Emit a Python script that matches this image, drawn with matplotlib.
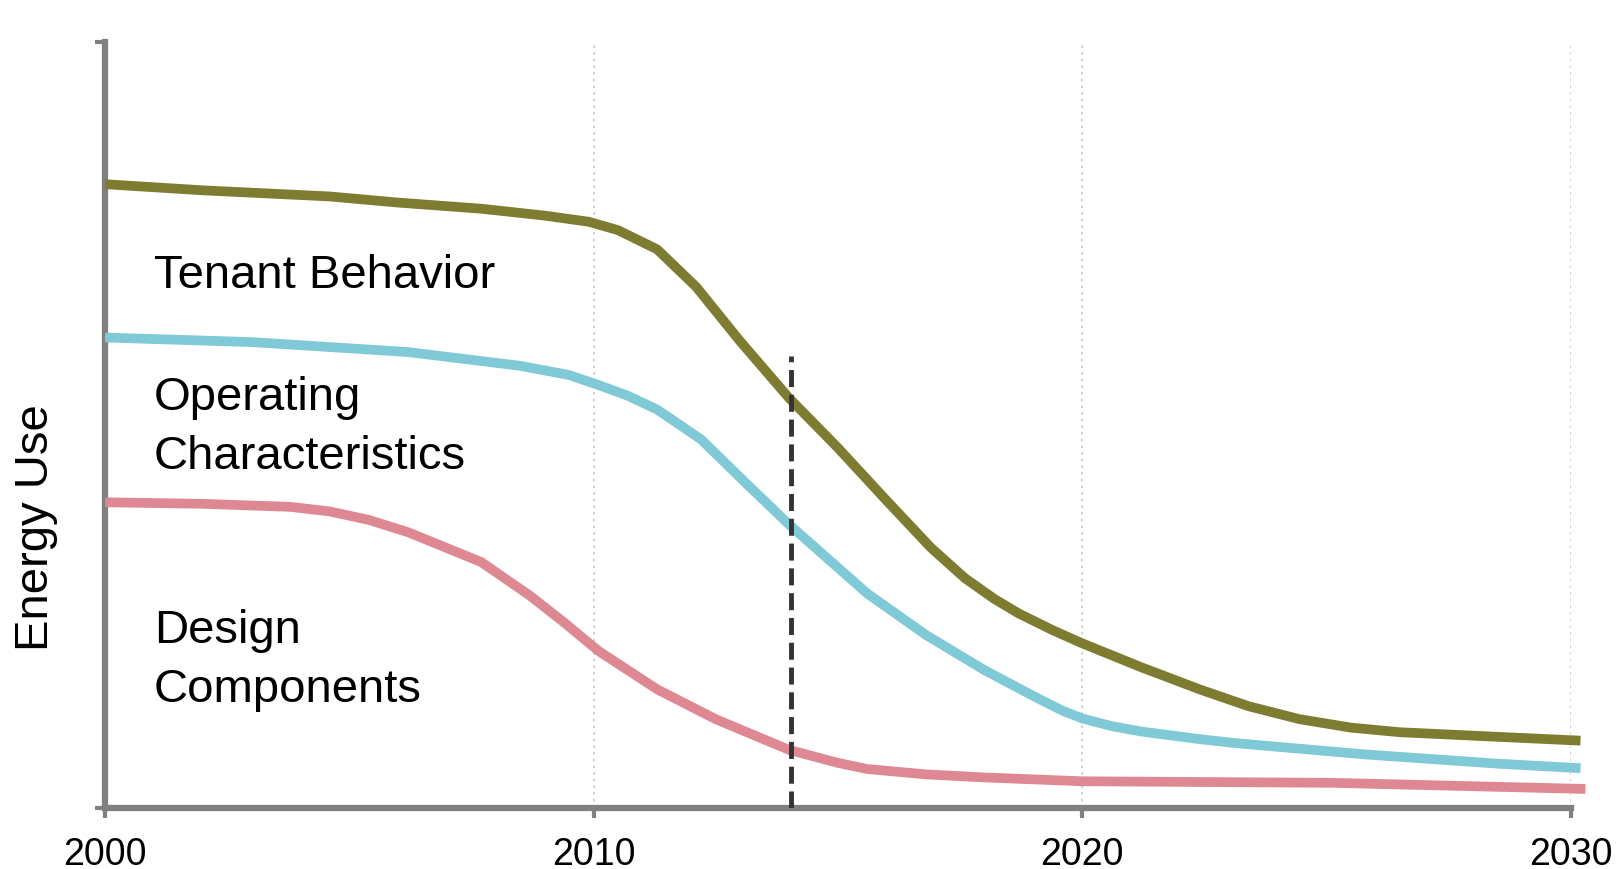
import matplotlib.pyplot as plt

# ---- data (energy use in arbitrary units, 0-100) ----
tenant_years = [2000, 2002, 2004.6, 2006, 2007.7, 2009, 2009.9, 2010.5, 2011.3,
                2012.1, 2013, 2014, 2015, 2016, 2016.9, 2017.6, 2018.2, 2018.7,
                2019.4, 2020, 2021.2, 2022.4, 2023.4, 2024.45, 2025.5, 2026.5,
                2028.5, 2030.2]
tenant_use = [81.4, 80.6, 79.8, 79.0, 78.2, 77.3, 76.5, 75.4, 72.9,
              68.0, 60.9, 53.5, 47.0, 40.1, 34.0, 30.0, 27.3, 25.4,
              23.2, 21.5, 18.4, 15.5, 13.3, 11.6, 10.5, 9.9,
              9.3, 8.8]

operating_years = [2000, 2003, 2006.2, 2008.5, 2009.5, 2010.1, 2010.7, 2011.3,
                   2012.2, 2013.1, 2014, 2014.8, 2015.6, 2016.8, 2018, 2019.1,
                   2019.6, 2020, 2020.6, 2021.2, 2022.4, 2023.1, 2025.8, 2028.5,
                   2030.2]
operating_use = [61.4, 60.8, 59.5, 57.7, 56.5, 55.2, 53.8, 52.0,
                 48.1, 42.5, 37.0, 32.5, 28.0, 22.6, 18.0, 14.3,
                 12.7, 11.7, 10.7, 10.0, 9.0, 8.5, 7.0, 5.8,
                 5.2]

design_years = [2000, 2002, 2003.8, 2004.6, 2005.4, 2006.2, 2007.7, 2008.7,
                2009.4, 2010.1, 2011.3, 2012.5, 2014, 2015, 2015.6, 2016.8,
                2018, 2020, 2025.1, 2030.3]
design_use = [39.9, 39.7, 39.3, 38.7, 37.6, 36.0, 32.1, 27.7,
              24.2, 20.5, 15.5, 11.6, 7.6, 5.9, 5.1, 4.4,
              4.0, 3.5, 3.3, 2.5]

now_year = 2014.04
now_top = 59.0

xtick_years = [2000, 2010, 2020, 2030]
grid_years = [2010, 2020, 2030]

labels = ["Tenant Behavior", "Operating\nCharacteristics", "Design\nComponents"]
label_pos = [(2001.0, 69.5), (2001.0, 49.8), (2001.0, 19.4)]

plt.rcParams['font.family'] = ['Liberation Sans', 'DejaVu Sans']

fig = plt.figure(figsize=(16.16, 8.70), dpi=100)
ax = fig.add_axes([0.065, 0.070, 0.907, 0.881])

for g in grid_years:
    ax.axvline(g, color='#c8c8c8', lw=1.2, ls=(0, (1.5, 2.5)), zorder=1)

ax.plot(tenant_years, tenant_use, color='#7e7c30', lw=7, solid_capstyle='butt',
        solid_joinstyle='round', clip_on=False, zorder=3)
ax.plot(operating_years, operating_use, color='#80c9d6', lw=7, solid_capstyle='butt',
        solid_joinstyle='round', clip_on=False, zorder=3)
ax.plot(design_years, design_use, color='#de8893', lw=7, solid_capstyle='butt',
        solid_joinstyle='round', clip_on=False, zorder=3)

ax.plot([now_year, now_year], [0, now_top], color='#333333', lw=3.5,
        ls=(0, (3.5, 1.6)), zorder=4)

for txt, (x, y) in zip(labels, label_pos):
    ax.text(x, y, txt, fontsize=34, color='black', va='center', ha='left',
            linespacing=1.43)

ax.set_xlim(2000, 2030)
ax.set_ylim(0, 100)
ax.set_xticks(xtick_years)
ax.set_xticklabels([str(y) for y in xtick_years], fontsize=27)
ax.set_yticks([0, 100])
ax.set_yticklabels([])
ax.tick_params(axis='both', direction='out', length=7, width=3, color='#808080')
ax.tick_params(axis='x', pad=13)
ax.set_ylabel("Energy Use", fontsize=34)
ax.yaxis.label.set_va('center')
ax.yaxis.set_label_coords(-0.047, 0.367)

for s in ['top', 'right']:
    ax.spines[s].set_visible(False)
for s in ['left', 'bottom']:
    ax.spines[s].set_color('#808080')
    ax.spines[s].set_linewidth(4.5)

fig.savefig('out.png', dpi=100)
